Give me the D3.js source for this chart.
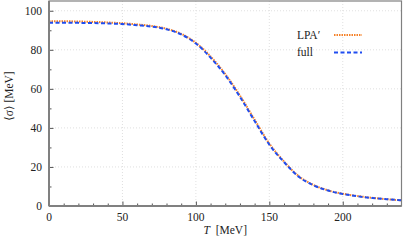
<!DOCTYPE html>
<html>
<head>
<meta charset="utf-8">
<script src="https://cdn.jsdelivr.net/npm/d3@7"></script>
<style>
  body { margin: 0; background: #fff; }
  text { font-family: "Liberation Serif", "DejaVu Serif", serif; fill: #222; }
</style>
</head>
<body>
<div id="chart"></div>
<script>
// Temperatures and condensate values
let temps = [0, 10, 20, 30, 40, 50, 60, 70, 80, 90, 100, 110, 120, 130, 140, 150, 160, 170, 180, 190, 200, 210, 220, 230, 240];
let lpaValues = [94.6, 94.6, 94.5, 94.3, 94.0, 93.6, 93.0, 92.2, 90.8, 88.2, 83.6, 76.6, 67.6, 56.6, 44.2, 32.0, 22.8, 15.3, 10.8, 8.0, 6.3, 5.1, 4.2, 3.5, 2.9];
let fullValues = [93.9, 93.9, 93.8, 93.7, 93.5, 93.2, 92.6, 91.9, 90.5, 87.9, 83.2, 76.0, 67.0, 55.9, 43.5, 31.4, 22.5, 15.0, 10.6, 7.9, 6.2, 5.0, 4.1, 3.5, 2.9];
let xTicks = [0, 50, 100, 150, 200];
let yTicks = [0, 20, 40, 60, 80, 100];
let seriesNames = ["LPA\u2032", "full"];

let svgWidth = 403, svgHeight = 241;
let margin = { top: 1, right: 1.5, bottom: 35, left: 49 };
let width = svgWidth - margin.left - margin.right;
let height = svgHeight - margin.top - margin.bottom;

let svg = d3.select("#chart").append("svg")
  .attr("width", svgWidth)
  .attr("height", svgHeight);

let g = svg.append("g")
  .attr("transform", `translate(${margin.left}, ${margin.top})`);

let x = d3.scaleLinear().domain([0, 240]).range([0, width]);
let y = d3.scaleLinear().domain([0, 105]).range([height, 0]);

// Dotted grid at the major ticks
g.selectAll(".gx").data(xTicks.filter(d => d > 0)).enter().append("line")
  .attr("x1", d => x(d)).attr("x2", d => x(d))
  .attr("y1", 0).attr("y2", height)
  .attr("stroke", "#d8d8d8").attr("stroke-width", 0.8)
  .attr("stroke-dasharray", "1,2");
g.selectAll(".gy").data(yTicks.filter(d => d > 0)).enter().append("line")
  .attr("x1", 0).attr("x2", width)
  .attr("y1", d => y(d)).attr("y2", d => y(d))
  .attr("stroke", "#d8d8d8").attr("stroke-width", 0.8)
  .attr("stroke-dasharray", "1,2");

// Curves
let rows = temps.map((t, i) => ({ t: t, lpa: lpaValues[i], full: fullValues[i] }));
let lineLpa = d3.line().x(d => x(d.t)).y(d => y(d.lpa)).curve(d3.curveMonotoneX);
let lineFull = d3.line().x(d => x(d.t)).y(d => y(d.full)).curve(d3.curveMonotoneX);

g.append("path").datum(rows)
  .attr("d", lineLpa)
  .attr("fill", "none").attr("stroke", "#f5822a").attr("stroke-width", 2)
  .attr("stroke-dasharray", "1.5,1");
g.append("path").datum(rows)
  .attr("d", lineFull)
  .attr("fill", "none").attr("stroke", "#1f4df0").attr("stroke-width", 2)
  .attr("stroke-dasharray", "4,2.5");

// Axes with inward ticks
let xMinor = d3.range(10, 240, 10);
let yMinor = d3.range(10, 105, 10);

let bottomAxis = d3.axisBottom(x).tickValues(xMinor).tickSize(-2.5).tickFormat("");
let leftAxis = d3.axisLeft(y).tickValues(yMinor).tickSize(-2.5).tickFormat("");

let xg = g.append("g").attr("transform", `translate(0, ${height})`).call(bottomAxis);
let yg = g.append("g").call(leftAxis);
[xg, yg].forEach(a => {
  a.select(".domain").remove();
  a.selectAll(".tick line").attr("stroke", "#555").attr("stroke-width", 1);
});
xg.selectAll(".tick").filter(d => d % 50 === 0).select("line").attr("y2", -4.5);
yg.selectAll(".tick").filter(d => d % 20 === 0).select("line").attr("x2", 4.5);

// Tick labels
g.selectAll(".xl").data(xTicks).enter().append("text")
  .attr("x", d => x(d)).attr("y", height + 15)
  .attr("text-anchor", "middle").style("font-size", "11.5px")
  .text(d => d);
g.selectAll(".yl").data(yTicks).enter().append("text")
  .attr("x", -7).attr("y", d => y(d) + 4)
  .attr("text-anchor", "end").style("font-size", "11.5px")
  .text(d => d);

// Frame
g.append("rect")
  .attr("x", 0).attr("y", 0).attr("width", width).attr("height", height)
  .attr("fill", "none").attr("stroke", "#808080").attr("stroke-width", 1.2);
g.append("line").attr("x1", 0).attr("x2", 0).attr("y1", 0).attr("y2", height)
  .attr("stroke", "#808080").attr("stroke-width", 2);
g.append("line").attr("x1", 0).attr("x2", width).attr("y1", height).attr("y2", height)
  .attr("stroke", "#808080").attr("stroke-width", 2);

// Legend
let legend = g.append("g");
let legendStyles = [
  { color: "#f5822a", dash: "1.5,1" },
  { color: "#1f4df0", dash: "4,2.5" }
];
seriesNames.forEach((name, i) => {
  let ly = 34 + i * 17.5;
  legend.append("text").attr("x", 248).attr("y", ly + 3.5)
    .style("font-size", "11.5px").text(name);
  legend.append("line").attr("x1", 285).attr("x2", 313)
    .attr("y1", ly).attr("y2", ly)
    .attr("stroke", legendStyles[i].color).attr("stroke-width", 2)
    .attr("stroke-dasharray", legendStyles[i].dash);
});

// Axis titles
let xTitle = g.append("text")
  .attr("x", width / 2).attr("y", height + 28)
  .attr("text-anchor", "middle").style("font-size", "11.5px");
xTitle.append("tspan").style("font-style", "italic").text("T");
xTitle.append("tspan").text("\u2002[MeV]");

g.append("text")
  .attr("transform", `translate(${13 - margin.left}, ${96 - margin.top}) rotate(-90)`)
  .attr("text-anchor", "middle").style("font-size", "11.5px")
  .text("\u27E8\u03C3\u27E9 [MeV]");
</script>
</body>
</html>
